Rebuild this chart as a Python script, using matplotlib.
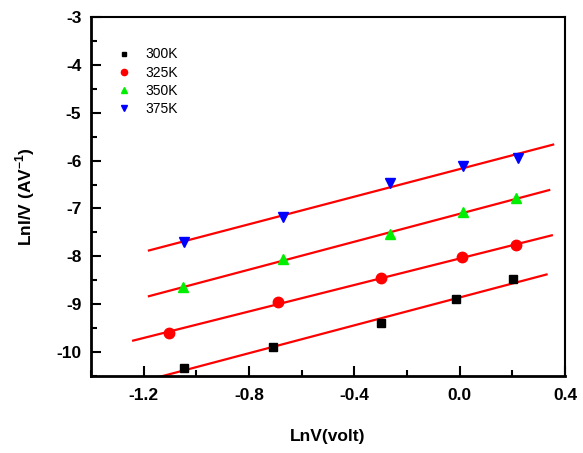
import matplotlib.pyplot as plt
import numpy as np
from matplotlib.ticker import MultipleLocator

plt.rcParams['font.family'] = ['Liberation Sans', 'DejaVu Sans']
plt.rcParams['mathtext.fontset'] = 'custom'
plt.rcParams['mathtext.rm'] = 'Liberation Sans'
plt.rcParams['mathtext.bf'] = 'Liberation Sans:bold'

labels = ['300K', '325K', '350K', '375K']
markers = ['s', 'o', '^', 'v']
colors = ['black', 'red', '#00ee00', 'blue']

x300 = [-1.048, -0.707, -0.300, -0.013, 0.203]
y300 = [-10.33, -9.90, -9.40, -8.90, -8.48]
x325 = [-1.105, -0.688, -0.298, 0.009, 0.214]
y325 = [-9.60, -8.96, -8.46, -8.02, -7.77]
x350 = [-1.052, -0.669, -0.263, 0.013, 0.214]
y350 = [-8.65, -8.06, -7.54, -7.08, -6.79]
x375 = [-1.048, -0.669, -0.263, 0.013, 0.222]
y375 = [-7.71, -7.17, -6.46, -6.12, -5.94]

# x range over which each linear fit is drawn
fit_ranges = [(-1.24, 0.33), (-1.24, 0.35), (-1.18, 0.34), (-1.18, 0.355)]

xs = [x300, x325, x350, x375]
ys = [y300, y325, y350, y375]

fig = plt.figure(figsize=(5.83, 4.53), dpi=100)
ax = fig.add_axes([91 / 583, 1 - 376 / 453, 474 / 583, 359 / 453])

for x, y, lab, m, c, (a, b) in zip(xs, ys, labels, markers, colors, fit_ranges):
    k, d = np.polyfit(x, y, 1)
    xf = np.array([a, b])
    ax.plot(xf, k * xf + d, color='red', lw=1.6, zorder=2)
    ms = 6 if m == 's' else 7.5
    ax.plot(x, y, ls='none', marker=m, color=c, ms=ms, label=lab, zorder=3)

ax.set_xlim(-1.4, 0.4)
ax.set_ylim(-10.5, -3)
ax.xaxis.set_minor_locator(MultipleLocator(0.2))
ax.yaxis.set_minor_locator(MultipleLocator(0.5))
ax.set_xticks([-1.2, -0.8, -0.4, 0.0, 0.4])
ax.set_xticklabels(['-1.2', '-0.8', '-0.4', '0.0', '0.4'])
ax.set_yticks(range(-10, -2))
ax.set_yticklabels([str(v) for v in range(-10, -2)])
ax.tick_params(which='both', direction='in', top=False, right=False,
               labelsize=12.5, width=1.5)
ax.tick_params(axis='x', pad=9)
ax.tick_params(axis='y', pad=7)
ax.tick_params(which='major', length=7)
ax.tick_params(which='minor', length=4)
for lbl in ax.get_xticklabels() + ax.get_yticklabels():
    lbl.set_fontweight('bold')
for s in ['left', 'bottom']:
    ax.spines[s].set_linewidth(2)
for s in ['top', 'right']:
    ax.spines[s].set_linewidth(1.5)

ax.set_xlabel('LnV(volt)', fontsize=12.5, fontweight='bold', labelpad=18)
ax.set_ylabel('LnI/V (AV$^{\\mathbf{-1}}$)', fontsize=12.5, fontweight='bold', labelpad=14)

ax.legend(loc='upper left', frameon=False, fontsize=10, markerscale=0.6,
          handletextpad=0.7, labelspacing=0.3, handlelength=1.6,
          bbox_to_anchor=(0.02, 0.95))

fig.savefig('out.png', dpi=100)
